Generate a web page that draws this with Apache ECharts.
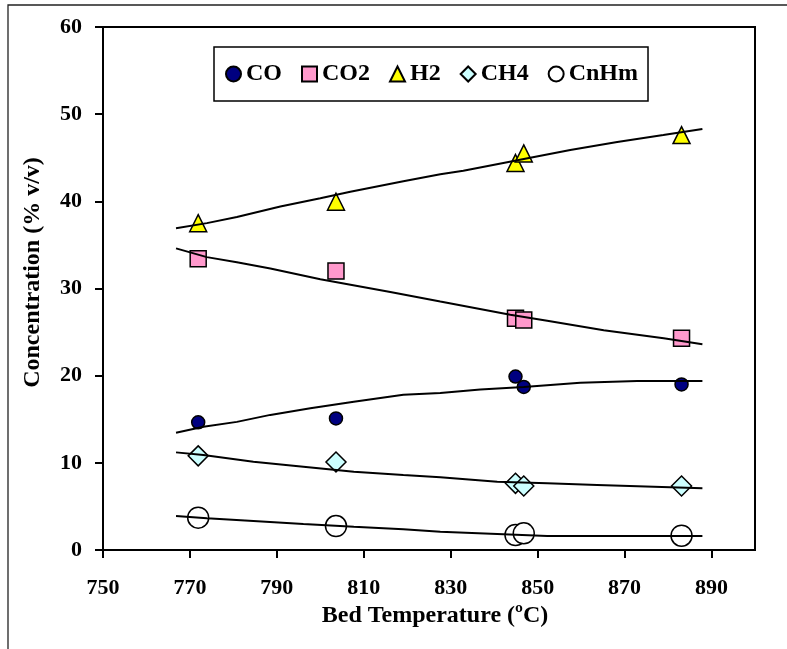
<!DOCTYPE html>
<html>
<head>
<meta charset="utf-8">
<script src="https://cdn.jsdelivr.net/npm/echarts@6/dist/echarts.min.js"></script>
<style>
html,body{margin:0;padding:0;background:#fff;}
#chart{width:787px;height:649px;}
</style>
</head>
<body>
<div id="chart"></div>
<script>
// ---- data ----
var temps = [771.9, 803.6, 844.9, 846.8, 883.1];
var coVals = [14.65, 15.1, 19.9, 18.7, 19.0];
var co2Vals = [33.4, 32.0, 26.6, 26.4, 24.3];
var h2Vals = [37.5, 39.95, 44.4, 45.5, 47.6];
var ch4Vals = [10.8, 10.1, 7.65, 7.34, 7.34];
var cnhmVals = [3.71, 2.75, 1.72, 1.91, 1.64];

var seriesNames = ['CO', 'CO2', 'H2', 'CH4', 'CnHm'];
var xTicks = [750, 770, 790, 810, 830, 850, 870, 890];

// trend lines
var coTrendX = [766.8, 773.1, 780.8, 788.5, 797.7, 807.7, 819.1, 827.6, 836.8, 846.8, 859.8, 872.9, 887.9];
var coTrendY = [13.46, 14.15, 14.7, 15.5, 16.25, 17.0, 17.8, 18.0, 18.4, 18.7, 19.2, 19.4, 19.4];
var co2TrendX = [766.8, 773.9, 780.8, 788.5, 800.0, 816.1, 827.6, 843.7, 852.2, 865.2, 879.0, 887.9];
var co2TrendY = [34.6, 33.6, 33.0, 32.3, 31.05, 29.6, 28.5, 27.0, 26.3, 25.2, 24.3, 23.6];
var h2TrendX = [766.8, 773.9, 780.8, 790.8, 800.0, 806.9, 819.1, 827.6, 832.9, 842.1, 848.3, 857.5, 868.3, 878.9, 887.9];
var h2TrendY = [36.9, 37.5, 38.2, 39.4, 40.35, 41.1, 42.3, 43.1, 43.5, 44.4, 45.0, 45.9, 46.8, 47.6, 48.3];
var ch4TrendX = [766.8, 773.1, 784.6, 796.1, 807.7, 819.1, 827.6, 840.7, 852.2, 863.7, 887.9];
var ch4TrendY = [11.2, 10.9, 10.13, 9.56, 8.98, 8.6, 8.34, 7.84, 7.65, 7.46, 7.08];
var cnhmTrendX = [766.8, 773.9, 784.6, 796.1, 807.7, 819.1, 827.6, 840.7, 852.2, 887.9];
var cnhmTrendY = [3.9, 3.63, 3.33, 2.98, 2.67, 2.37, 2.1, 1.84, 1.6, 1.6];

function pairs(xs, ys) { return xs.map(function (x, i) { return [x, ys[i]]; }); }

var FONT = '"Liberation Serif", "Times New Roman", serif';

var chart = echarts.init(document.getElementById('chart'), null, {renderer: 'canvas'});

function scatter(name, vals, symbol, size, color) {
  return {
    name: name, type: 'scatter', data: pairs(temps, vals),
    symbol: symbol, symbolSize: size, z: 2,
    itemStyle: {color: color, borderColor: '#000', borderWidth: 1.5, opacity: 1}
  };
}
function trend(name, xs, ys) {
  return {
    name: name, type: 'line', data: pairs(xs, ys), showSymbol: false, symbol: 'none',
    z: 3, silent: true, lineStyle: {color: '#000', width: 2}
  };
}

var option = {
  backgroundColor: '#fff',
  animation: false,
  textStyle: {fontFamily: FONT},
  graphic: [{
    type: 'rect', shape: {x: 8, y: 5, width: 900, height: 800},
    style: {fill: 'none', stroke: '#222', lineWidth: 1.3}, z: -1
  }],
  grid: {left: 103, right: 32, top: 27, bottom: 99, show: true, borderColor: '#000', borderWidth: 2, backgroundColor: '#fff'},
  legend: {
    data: seriesNames,
    left: 214, top: 47,
    padding: [15, 10, 15, 11],
    itemGap: 19, itemWidth: 15, itemHeight: 15,
    borderColor: '#000', borderWidth: 1.5,
    backgroundColor: '#fff',
    textStyle: {fontFamily: FONT, fontWeight: 'bold', fontSize: 24, color: '#000'}
  },
  xAxis: {
    type: 'value', min: 750, max: 900,
    name: 'Bed Temperature (ºC)', nameLocation: 'middle', nameGap: 49,
    nameTextStyle: {fontFamily: FONT, fontWeight: 'bold', fontSize: 24, color: '#000', padding: [0, 0, 0, 12]},
    axisLine: {show: true, onZero: false, lineStyle: {color: '#000', width: 2}},
    axisTick: {show: true, inside: false, length: 8, lineStyle: {color: '#000', width: 2}, customValues: xTicks},
    axisLabel: {fontFamily: FONT, fontWeight: 'bold', fontSize: 22, color: '#000', margin: 27, customValues: xTicks},
    splitLine: {show: false}
  },
  yAxis: {
    type: 'value', min: 0, max: 60, interval: 10,
    name: 'Concentration (% v/v)', nameLocation: 'middle', nameGap: 58,
    nameTextStyle: {fontFamily: FONT, fontWeight: 'bold', fontSize: 24, color: '#000', padding: [0, 0, 0, 32]},
    axisLine: {show: true, onZero: false, lineStyle: {color: '#000', width: 2}},
    axisTick: {show: true, inside: false, length: 8, lineStyle: {color: '#000', width: 2}},
    axisLabel: {fontFamily: FONT, fontWeight: 'bold', fontSize: 22, color: '#000', margin: 21},
    splitLine: {show: false}
  },
  series: [
    scatter('CO', coVals, 'circle', 13, '#000080'),
    scatter('CO2', co2Vals, 'rect', 16, '#FF99CC'),
    scatter('H2', h2Vals, 'triangle', 17, '#FFFF00'),
    scatter('CH4', ch4Vals, 'diamond', 20, '#CCFFFF'),
    scatter('CnHm', cnhmVals, 'circle', 21, '#FFFFFF'),
    trend('CO trend', coTrendX, coTrendY),
    trend('CO2 trend', co2TrendX, co2TrendY),
    trend('H2 trend', h2TrendX, h2TrendY),
    trend('CH4 trend', ch4TrendX, ch4TrendY),
    trend('CnHm trend', cnhmTrendX, cnhmTrendY)
  ]
};
chart.setOption(option);
</script>
</body>
</html>
